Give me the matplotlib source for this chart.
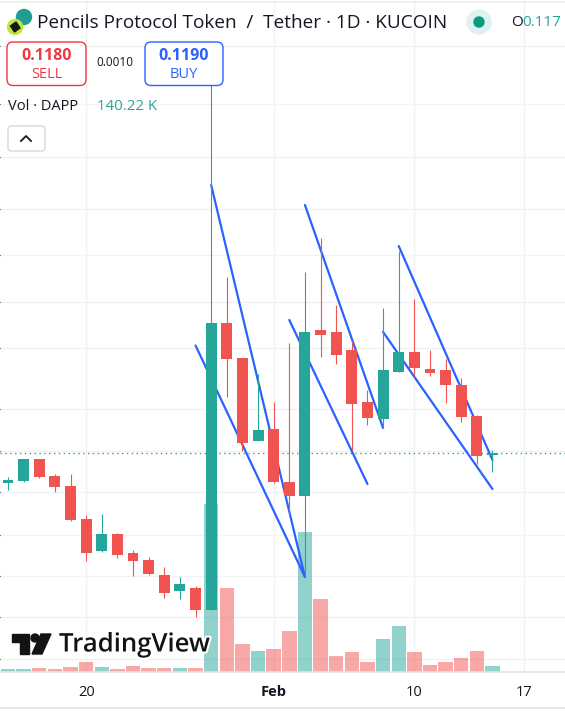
# plot the daily candles of DAPP/USDT with volume and the hand drawn channels
import numpy as np
import matplotlib.pyplot as plt
from matplotlib.patches import Circle, FancyBboxPatch, Polygon, Rectangle
import matplotlib.patheffects as pe

plt.rcParams['font.family'] = ['Open Sans', 'DejaVu Sans']

#candle data, one per day from 15 Jan
days = np.arange(32)
opens = [.11200,.11250,.11800,.11375,.11125,.10300,.09500,.09925,.09450,.09275,.08900,.08500,.08575,.08025,
         .15200,.14325,.12250,.12550,.11225,.10875,.15025,.14975,.14525,.13225,.12800,.13975,.14475,.14050,
         .14025,.13650,.12875,.11900]
highs = [.11350,.11800,.11800,.11425,.11425,.10400,.10425,.09950,.09525,.09350,.09100,.08850,.08625,.21150,
         .16350,.14325,.13925,.13225,.14700,.16475,.17325,.15650,.14750,.13525,.15575,.17000,.15800,.14525,
         .14300,.13825,.12900,.12025]
lows = [.11025,.11225,.11325,.10975,.10250,.09250,.09475,.09325,.08875,.08900,.08325,.08300,.07850,.08025,
        .13350,.12000,.12250,.11200,.10400,.08850,.14350,.14175,.12025,.12650,.12575,.13975,.13875,.13875,
        .13200,.12725,.11675,.11475]
closes = [.11275,.11800,.11350,.11100,.10275,.09450,.09925,.09400,.09250,.08925,.08450,.08675,.08025,.15200,
          .14300,.12200,.12525,.11225,.10875,.14975,.14900,.14400,.13175,.12825,.14025,.14475,.14075,.13950,
          .13650,.12850,.11875,.11950]
#volume in thousands
volumes = [70,70,94,70,117,234,117,70,140,94,94,94,94,3926,1963,654,491,537,958,3272,1706,374,467,234,771,
           1075,467,164,234,327,491,140.22]

#trend lines: day, price, day, price
channels = [(13,.18650,19,.08850),(12,.14638,19,.08850),(19,.18150,24,.12575),
            (18,.15275,23,.11175),(25,.17125,31,.11775),(24,.14975,31,.11050)]

tick_days = [5,17,26,33]
tick_labels = ['20','Feb','10','17']
grid_prices = [.22125,.20675,.19350,.18050,.16900,.15725,.14575,.13050,.12000,.10975,.09900,.08875,.07850,.06800]

green = '#26a69a'
red = '#f05350'
blue = '#2962ff'
ink = '#131722'

fig = plt.figure(figsize=(5.65,7.18), dpi=100)
ax = fig.add_axes([0,46/718,1,672/718])
ax.set_xlim(-0.512,35.64)
ax.set_ylim(.06475,.23275)
for s in ax.spines.values():
    s.set_visible(False)
ax.set_yticks(grid_prices)
ax.tick_params(axis='y',left=False,labelleft=False)
ax.set_xticks(tick_days)
ax.set_xticklabels(tick_labels,fontsize=10.5,color=ink)
ax.get_xticklabels()[1].set_fontweight('bold')
ax.tick_params(axis='x',bottom=False,pad=6)
ax.grid(True,color='#f1f2f4',lw=1)
ax.set_axisbelow(True)

#volume sits on its own scale at the bottom
ax_vol = ax.twinx()
ax_vol.set_ylim(0,15705)
ax_vol.set_yticks([])
for s in ax_vol.spines.values():
    s.set_visible(False)
up = np.array(closes) >= np.array(opens)
vol_col = [green if u else red for u in up]
ax_vol.bar(days,volumes,width=0.92,color=vol_col,alpha=0.5,lw=0,zorder=1)

#price has to be on top of the volume
ax_p = ax.twinx()
ax_p.set_ylim(ax.get_ylim())
ax_p.set_yticks([])
for s in ax_p.spines.values():
    s.set_visible(False)
ax_p.axhline(closes[-1],color=green,lw=1,ls=(0,(1,2.5)),zorder=1)
for d0,p0,d1,p1 in channels:
    ax_p.plot([d0,d1],[p0,p1],color=blue,lw=1.6,zorder=2,solid_capstyle='round')
ax_p.vlines(days,lows,highs,colors=vol_col,lw=0.8,zorder=3)
body_bottom = np.minimum(opens,closes)
body_height = np.abs(np.array(opens)-np.array(closes))
ax_p.bar(days,body_height,bottom=body_bottom,width=0.7,color=vol_col,lw=0,zorder=4)

#header stuff in pixel coordinates
top = fig.add_axes([0,0,1,1],facecolor='none')
top.set_xlim(0,565)
top.set_ylim(718,0)
top.axis('off')
top.axhline(672,color='#e0e3eb',lw=1.2)
top.axhline(708,color='#e0e3eb',lw=1.2)
top.axhline(2,color='#eeeeee',lw=1.2)

#logo
top.add_patch(Circle((24,17),7.5,color='#1f9d93'))
top.add_patch(Circle((15,27),7.5,color='#bfe83c'))
top.add_patch(Polygon([(10.5,26),(16,22),(20,28),(14.5,32)],color='#15171c'))
top.text(37,22.5,'Pencils Protocol Token  /  Tether · 1D · KUCOIN',fontsize=13.65,color=ink,va='center',ha='left')
top.add_patch(Circle((479,22),12,color='#dff2ef'))
top.add_patch(Circle((479,22),5,color='#089981'))
top.text(511,23,'O',fontsize=11,color=ink,va='center',ha='left')
top.text(522,23,'0.117',fontsize=11,color=green,va='center',ha='left',clip_on=True)

#sell and buy boxes
top.add_patch(FancyBboxPatch((7,42),79,43.5,boxstyle='round,pad=0,rounding_size=6',fc='white',ec='#f23645',lw=1))
top.add_patch(FancyBboxPatch((145,42),78,43.5,boxstyle='round,pad=0,rounding_size=6',fc='white',ec='#2962ff',lw=1))
top.text(46.5,56,'0.1180',fontsize=11.5,fontweight='bold',color='#f23645',ha='center',va='center')
top.text(46.5,74,'SELL',fontsize=10.5,color='#f23645',ha='center',va='center')
top.text(184,56,'0.1190',fontsize=11.5,fontweight='bold',color='#2962ff',ha='center',va='center')
top.text(184,74,'BUY',fontsize=10.5,color='#2962ff',ha='center',va='center')
top.text(115,63,'0.0010',fontsize=8.5,color=ink,ha='center',va='center')

top.text(8,107,'Vol · DAPP',fontsize=10.5,color=ink,va='center',ha='left')
top.text(97,107,'140.22 K',fontsize=10.8,color=green,va='center',ha='left')
top.add_patch(FancyBboxPatch((8,126),37,25,boxstyle='round,pad=0,rounding_size=3',fc='white',ec='#d6d8de',lw=1))
top.plot([21,26,31],[141,136,141],color=ink,lw=1.3)

#tradingview mark
stroke = [pe.withStroke(linewidth=3,foreground='white')]
top.add_patch(Polygon([(12,634),(29,634),(29,654),(20,654),(20,642),(12,642)],color='#131313',zorder=5))
top.add_patch(Circle((35,638),4,color='#131313',zorder=5))
top.add_patch(Polygon([(41,634),(51,634),(42,654),(32,654)],color='#131313',zorder=5))
top.text(59,645,'TradingView',fontsize=18.5,fontweight='semibold',color='#131313',va='center',ha='left',
         path_effects=stroke,zorder=5)

fig.savefig('out.png',dpi=100)
